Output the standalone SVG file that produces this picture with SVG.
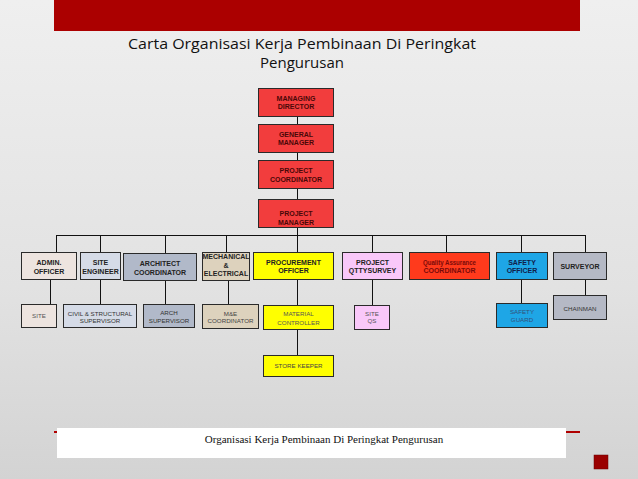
<svg xmlns="http://www.w3.org/2000/svg" width="638" height="479" viewBox="0 0 638 479">
<defs>
<linearGradient id="bg" x1="0" y1="0" x2="0" y2="1">
<stop offset="0" stop-color="#efefef"/>
<stop offset="0.6" stop-color="#e2e2e2"/>
<stop offset="1" stop-color="#d3d3d3"/>
</linearGradient>
<style>
.b{stroke:#2a2a2a;stroke-width:1}
.t{font-family:"Liberation Sans",Arial,sans-serif;font-size:7px;font-weight:bold;text-anchor:middle}
.s{font-family:"Liberation Sans",Arial,sans-serif;font-size:6.2px;text-anchor:middle}
.red{fill:#f23d3d}
.tr{fill:#4a0808}
.c line{stroke:#111;stroke-width:1}
</style>
</defs>
<rect width="638" height="479" fill="url(#bg)"/>
<rect x="54" y="0" width="526" height="31" fill="#ab0000"/>
<text x="302" y="49" font-family="'Open Sans',sans-serif" font-size="15" fill="#111" text-anchor="middle" textLength="348" lengthAdjust="spacingAndGlyphs">Carta Organisasi Kerja Pembinaan Di Peringkat</text>
<text x="302" y="68" font-family="'Open Sans',sans-serif" font-size="15" fill="#111" text-anchor="middle">Pengurusan</text>

<g class="c" id="connectors">
<line x1="297.5" y1="116" x2="297.5" y2="124"/>
<line x1="297.5" y1="152" x2="297.5" y2="160"/>
<line x1="297.5" y1="188" x2="297.5" y2="199"/>
<line x1="297.5" y1="227" x2="297.5" y2="252"/>
<line x1="56" y1="235.5" x2="585.5" y2="235.5"/>
<line x1="56.5" y1="235" x2="56.5" y2="252"/>
<line x1="100.5" y1="235" x2="100.5" y2="252"/>
<line x1="165.5" y1="235" x2="165.5" y2="253"/>
<line x1="226.5" y1="235" x2="226.5" y2="252"/>
<line x1="372.5" y1="235" x2="372.5" y2="252"/>
<line x1="446.5" y1="235" x2="446.5" y2="252"/>
<line x1="521.5" y1="235" x2="521.5" y2="252"/>
<line x1="585.5" y1="235" x2="585.5" y2="252"/>
<line x1="50.5" y1="279" x2="50.5" y2="304"/>
<line x1="100.5" y1="279" x2="100.5" y2="304"/>
<line x1="165.5" y1="280" x2="165.5" y2="304"/>
<line x1="228.5" y1="280" x2="228.5" y2="304"/>
<line x1="297.5" y1="279" x2="297.5" y2="305"/>
<line x1="297.5" y1="329" x2="297.5" y2="355"/>
<line x1="372.5" y1="280" x2="372.5" y2="305"/>
<line x1="521.5" y1="279" x2="521.5" y2="303"/>
<line x1="585.5" y1="279" x2="585.5" y2="295"/>
</g>

<g id="managing-director"><rect class="b red" x="258.5" y="88.5" width="75" height="28"/><text class="t tr" x="296" y="100.5">MANAGING</text><text class="t tr" x="296" y="109">DIRECTOR</text></g>
<g id="general-manager"><rect class="b red" x="258.5" y="124.5" width="75" height="28"/><text class="t tr" x="296" y="136.5">GENERAL</text><text class="t tr" x="296" y="145">MANAGER</text></g>
<g id="project-coordinator"><rect class="b red" x="258.5" y="160.5" width="75" height="28"/><text class="t tr" x="296" y="172.5">PROJECT</text><text class="t tr" x="296" y="181.5">COORDINATOR</text></g>
<g id="project-manager"><rect class="b red" x="258.5" y="199.5" width="75" height="28"/><text class="t tr" x="296" y="215.5">PROJECT</text><text class="t tr" x="296" y="224.5">MANAGER</text></g>

<g id="admin-officer"><rect class="b" fill="#ede4df" x="21.5" y="252.5" width="55" height="27"/><text class="t" fill="#222" x="49" y="264.5">ADMIN.</text><text class="t" fill="#222" x="49" y="273.5">OFFICER</text></g>
<g id="site-engineer"><rect class="b" fill="#d5dbe7" x="80.5" y="252.5" width="40" height="27"/><text class="t" fill="#222" x="100.5" y="264.5">SITE</text><text class="t" fill="#222" x="100.5" y="273.5">ENGINEER</text></g>
<g id="architect-coordinator"><rect class="b" fill="#b1b9c9" x="123.5" y="253.5" width="73" height="27"/><text class="t" fill="#222" x="160" y="266">ARCHITECT</text><text class="t" fill="#222" x="160" y="274.5">COORDINATOR</text></g>
<g id="mechanical-electrical"><rect class="b" fill="#ddd2bd" x="202.5" y="252.5" width="47" height="28"/><text class="t" fill="#222" x="226" y="259.2">MECHANICAL</text><text class="t" fill="#222" x="226" y="267.5">&amp;</text><text class="t" fill="#222" x="226" y="276.2">ELECTRICAL</text></g>
<g id="procurement-officer"><rect class="b" fill="#ffff00" x="253.5" y="252.5" width="80" height="27"/><text class="t" fill="#222" x="293.5" y="264.5">PROCUREMENT</text><text class="t" fill="#222" x="293.5" y="272.5">OFFICER</text></g>
<g id="project-qttysurvey"><rect class="b" fill="#f9c8f9" x="342.5" y="252.5" width="60" height="27"/><text class="t" fill="#222" x="372.5" y="264.5">PROJECT</text><text class="t" fill="#222" x="372.5" y="272.5">QTTYSURVEY</text></g>
<g id="quality-assurance"><rect class="b" fill="#ff3a1c" x="409.5" y="252.5" width="80" height="27"/><text class="t" fill="#7a0a0a" x="449.5" y="265" textLength="53" lengthAdjust="spacingAndGlyphs">Quality Assurance</text><text class="t" fill="#7a0a0a" x="449.5" y="273">COORDINATOR</text></g>
<g id="safety-officer"><rect class="b" fill="#1ea6e6" x="496.5" y="252.5" width="51" height="27"/><text class="t" fill="#10204a" x="522" y="264.5">SAFETY</text><text class="t" fill="#10204a" x="522" y="272.5">OFFICER</text></g>
<g id="surveyor"><rect class="b" fill="#b5b9c5" x="553.5" y="252.5" width="53" height="27"/><text class="t" fill="#222" x="580" y="269">SURVEYOR</text></g>

<g id="site"><rect class="b" fill="#ede4df" x="21.5" y="304.5" width="35" height="23"/><text class="s" fill="#555" x="39" y="317.5">SITE</text></g>
<g id="civil-structural-supervisor"><rect class="b" fill="#d5dbe7" x="63.5" y="304.5" width="73" height="23"/><text class="s" fill="#333" x="100" y="316">CIVIL &amp; STRUCTURAL</text><text class="s" fill="#333" x="100" y="322.5">SUPERVISOR</text></g>
<g id="arch-supervisor"><rect class="b" fill="#b1b9c9" x="143.5" y="304.5" width="51" height="23"/><text class="s" fill="#333" x="169" y="314.5">ARCH</text><text class="s" fill="#333" x="169" y="322.5">SUPERVISOR</text></g>
<g id="me-coordinator"><rect class="b" fill="#ddd2bd" x="202.5" y="304.5" width="56" height="24"/><text class="s" fill="#444" x="230.5" y="315.5">M&amp;E</text><text class="s" fill="#444" x="230.5" y="322.5">COORDINATOR</text></g>
<g id="material-controller"><rect class="b" fill="#ffff00" x="263.5" y="305.5" width="70" height="24"/><text class="s" fill="#555" x="298.5" y="316">MATERIAL</text><text class="s" fill="#555" x="298.5" y="324.5">CONTROLLER</text></g>
<g id="store-keeper"><rect class="b" fill="#ffff00" x="263.5" y="355.5" width="70" height="21"/><text class="s" fill="#444" x="298.5" y="368">STORE KEEPER</text></g>
<g id="site-qs"><rect class="b" fill="#f9c8f9" x="354.5" y="305.5" width="35" height="24"/><text class="s" fill="#555" x="372" y="316">SITE</text><text class="s" fill="#555" x="372" y="323">QS</text></g>
<g id="safety-guard"><rect class="b" fill="#1ea6e6" x="496.5" y="303.5" width="51" height="24"/><text class="s" fill="#34507a" x="522" y="314">SAFETY</text><text class="s" fill="#34507a" x="522" y="322">GUARD</text></g>
<g id="chainman"><rect class="b" fill="#b5b9c5" x="553.5" y="295.5" width="53" height="24"/><text class="s" fill="#333" x="580" y="311">CHAINMAN</text></g>

<rect x="54" y="431" width="4" height="2" fill="#b00000"/>
<rect x="566" y="431" width="14" height="2" fill="#b00000"/>
<rect x="57" y="428" width="509" height="30" fill="#ffffff"/>
<text x="324" y="443" font-family="'Liberation Serif',serif" font-size="11" fill="#111" text-anchor="middle">Organisasi Kerja Pembinaan Di Peringkat Pengurusan</text>
<rect x="594" y="455" width="14" height="14" fill="#9a0000" stroke="#6a0000" stroke-width="0.5"/>
</svg>
